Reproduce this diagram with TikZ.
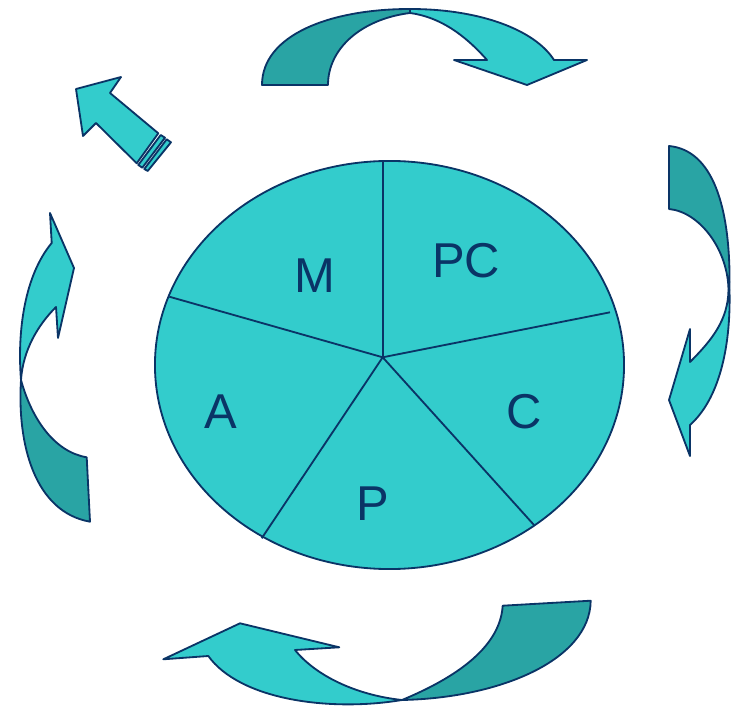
\documentclass[tikz,border=0pt]{standalone}
\usepackage{xcolor}
\usepackage{tikz}
\usetikzlibrary{shapes.geometric}
\usepackage{fontspec}
\setmainfont{Liberation Sans}
\definecolor{navy}{HTML}{0A3466}
\definecolor{lightteal}{HTML}{33CCCC}
\definecolor{darkteal}{HTML}{29A4A4}

\begin{document}
\begin{tikzpicture}[
  x=0.025cm, y=-0.025cm,
  pie/.style={draw=navy, fill=lightteal, ellipse, line width=1.3pt,
    inner sep=0pt, minimum width=11.725cm, minimum height=10.2cm},
  slice/.style={draw=navy, line width=1.3pt},
  lightband/.style={draw=navy, fill=lightteal, line width=1.3pt, line join=round},
  darkband/.style={draw=navy, fill=darkteal, line width=1.3pt, line join=round},
  letter/.style={text=navy, font=\fontsize{34.8}{40}\selectfont, inner sep=0pt}
]
  \useasboundingbox (0,0) rectangle (738,708);

  \node[pie] (pie) at (389.5,365) {};
  \coordinate (ctr) at (382.7,357.3);
  \coordinate (top) at (382.7,160.7);
  \coordinate (rgt) at (610,312.3);
  \coordinate (lrt) at (534,525);
  \coordinate (llf) at (261.7,538.3);
  \coordinate (lft) at (169.3,296.7);
  \foreach \p in {top,rgt,lrt,llf,lft}
    \draw[slice] (ctr) -- (\p);

  \node[letter] (m) at (315,276) {M};
  \node[letter] (pc) at (466,261) {PC};
  \node[letter] (c) at (524,411.7) {C};
  \node[letter] (a) at (221,411.7) {A};
  \node[letter] (p) at (372.7,503.3) {P};

  % top curved arrow
  \path[darkband] (262,85) .. controls (262,35) and (330,9) .. (410,9)
    -- (410,13) .. controls (362,19) and (328,48) .. (328,85) -- cycle;
  \path[lightband] (410,9) .. controls (480,9) and (535,30) .. (554,60)
    -- (587,60) -- (527,85) -- (454,60) -- (487,60)
    .. controls (465,35) and (440,17) .. (410,13) -- cycle;

  % right curved arrow
  \path[darkband] (669,146) -- (669,209) .. controls (700,212) and (728,250) .. (728.5,290)
    -- (729.5,290) .. controls (731,205) and (712,150) .. (669,146) -- cycle;
  \path[lightband] (729.5,290) .. controls (731,350) and (718,400) .. (690,425)
    -- (690,456) -- (669,400) -- (690,329) -- (690,362)
    .. controls (712,340) and (728,320) .. (728.5,290) -- cycle;

  % bottom curved arrow
  \path[darkband] (502.7,605.7) -- (590.7,600.7)
    .. controls (590,660) and (500,698) .. (402,700)
    .. controls (450,680) and (500,650) .. (502.7,605.7) -- cycle;
  \path[lightband] (402,700) .. controls (330,712) and (240,700) .. (208.3,656)
    -- (163.3,659.3) -- (240,623.3) -- (339.3,647.3) -- (295,650)
    .. controls (315,675) and (355,695) .. (402,700) -- cycle;

  % left curved arrow
  \path[darkband] (21,380) .. controls (32,420) and (55,452) .. (86.7,457.3)
    -- (90,521.7) .. controls (35,512) and (17,445) .. (21,380) -- cycle;
  \path[lightband] (50,213) -- (74,268) -- (58,338) -- (56,307)
    .. controls (38,325) and (23,350) .. (21,380)
    .. controls (17,330) and (25,275) .. (51.7,243) -- cycle;

  % striped arrow
  \path[lightband] (76,89) -- (121,77) -- (110,93) -- (158.3,133.3)
    -- (136.7,163.3) -- (96,123) -- (83,136) -- cycle;
  \path[lightband] (160.7,135) -- (165,137.7) -- (142.3,167.7) -- (138.3,165) -- cycle;
  \path[lightband] (166.7,139.3) -- (171,142.3) -- (147.7,171) -- (144.3,169) -- cycle;
\end{tikzpicture}
\end{document}
